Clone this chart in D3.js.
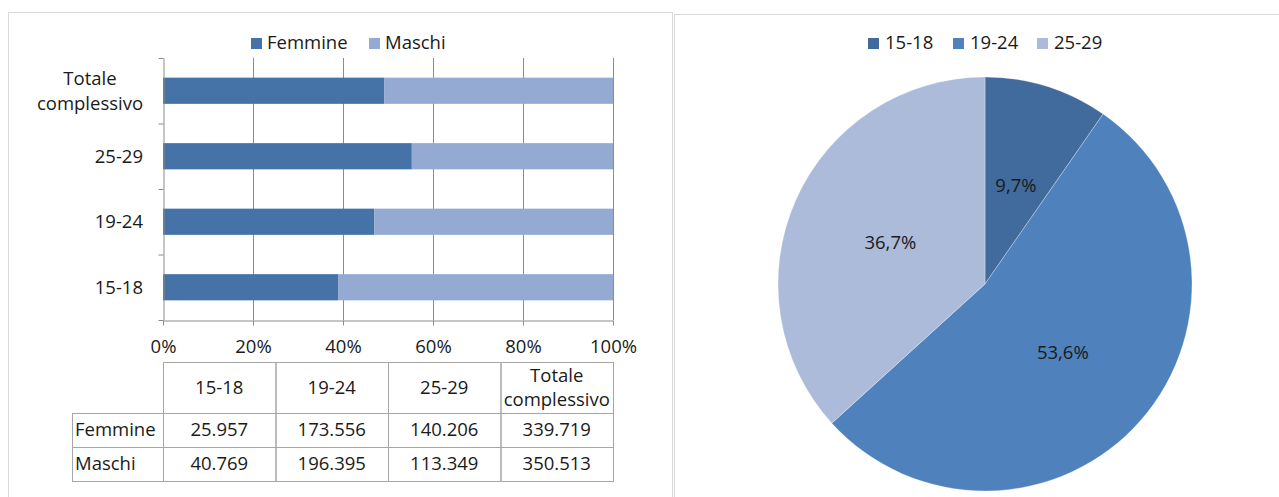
<html>
<head>
<style>
  body { margin: 0; background: #fff; }
  text { font-family: "Open Sans", sans-serif; font-size: 18.5px; fill: #1a1a1a; }
  .grid line { stroke: #8c8c8c; }
  .axis path, .axis line { stroke: #8c8c8c; }
  .axis text { font-size: 18.5px; fill: #1a1a1a; font-family: "Open Sans", sans-serif; }
  .cell { fill: none; stroke: #a6a6a6; }
</style>
<script src="https://cdn.jsdelivr.net/npm/d3@7"></script>
</head>
<body>
<svg id="chart" width="1279" height="497"></svg>
<script>
// dati
const categorie = ["15-18", "19-24", "25-29", "Totale complessivo"];
const femmine = [25957, 173556, 140206, 339719];
const maschi = [40769, 196395, 113349, 350513];
const serie = ["Femmine", "Maschi"];
const coloriBarre = ["#4573a7", "#95aad3"];
const fasce = ["15-18", "19-24", "25-29"];
const coloriTorta = ["#416b9c", "#4f81bd", "#abbbd9"];
const tickX = [0, 0.2, 0.4, 0.6, 0.8, 1];

const svg = d3.select("#chart");
const it = d3.formatLocale({ decimal: ",", thousands: ".", grouping: [3], currency: ["", "€"] });
const fmtNum = it.format(",d");
const fmtPct = it.format(".1%");

// cornici dei due pannelli
svg.append("rect").attr("x", 8.5).attr("y", 12.5).attr("width", 664).attr("height", 500)
  .attr("fill", "none").attr("stroke", "#d9d9d9");
svg.append("rect").attr("x", 674.5).attr("y", 14.5).attr("width", 620).attr("height", 500)
  .attr("fill", "none").attr("stroke", "#d9d9d9");

// ---- grafico a barre 100% ----
const x = d3.scaleLinear().domain([0, 1]).range([163, 613]);
const y = d3.scaleBand().domain(categorie.slice().reverse()).range([58, 320])
  .paddingInner(0.6).paddingOuter(0.3);
const yIdx = d3.scaleLinear().domain([0, categorie.length]).range([320, 58]);

svg.append("g").attr("class", "grid")
  .selectAll("line").data(tickX.slice(1)).join("line")
  .attr("x1", d => x(d) + 0.5).attr("x2", d => x(d) + 0.5)
  .attr("y1", 58).attr("y2", 320);

const righe = categorie.map((c, i) => {
  const tot = femmine[i] + maschi[i];
  return { cat: c, f: femmine[i] / tot, m: maschi[i] / tot };
});

svg.append("g").selectAll("rect").data(righe).join("rect")
  .attr("x", x(0)).attr("y", d => y(d.cat))
  .attr("width", d => x(d.f) - x(0)).attr("height", y.bandwidth())
  .attr("fill", coloriBarre[0]);
svg.append("g").selectAll("rect").data(righe).join("rect")
  .attr("x", d => x(d.f)).attr("y", d => y(d.cat))
  .attr("width", d => x(1) - x(d.f)).attr("height", y.bandwidth())
  .attr("fill", coloriBarre[1]);

svg.append("g").attr("class", "axis")
  .attr("transform", "translate(0,320.5)")
  .call(d3.axisBottom(x).tickValues(tickX).tickFormat(d3.format(".0%")).tickSize(5).tickPadding(14).tickSizeOuter(0));

svg.append("g").attr("class", "axis")
  .attr("transform", "translate(163.5,0)")
  .call(d3.axisLeft(yIdx).tickValues(d3.range(categorie.length + 1)).tickFormat("").tickSize(5).tickSizeOuter(0));

// etichette categorie
svg.append("g").selectAll("text").data(categorie).join("text")
  .attr("text-anchor", d => d.includes(" ") ? "middle" : "end")
  .attr("x", d => d.includes(" ") ? 90 : 143)
  .each(function(d) {
    const parole = d.split(" ");
    const t = d3.select(this);
    const cy = y(d) + y.bandwidth() / 2;
    parole.forEach((p, k) => {
      t.append("tspan").attr("x", t.attr("x"))
        .attr("y", cy + (k - (parole.length - 1) / 2) * 25)
        .attr("dy", "0.35em")
        .text(p);
    });
  });

// legenda barre
const legB = svg.append("g");
const legBx = [251, 369];
serie.forEach((s, i) => {
  legB.append("rect").attr("x", legBx[i]).attr("y", 38).attr("width", 11).attr("height", 11).attr("fill", coloriBarre[i]);
  legB.append("text").attr("x", legBx[i] + 16).attr("y", 43).attr("dy", "0.35em").text(s);
});

// tabella dati
const col = d3.scaleBand().domain(categorie).range([163, 613]);
const rowY = [362, 413, 447, 481];
const tab = svg.append("g");
categorie.forEach(c => {
  tab.append("rect").attr("class", "cell").attr("x", col(c) + 0.5).attr("y", rowY[0] + 0.5)
    .attr("width", col.bandwidth()).attr("height", rowY[1] - rowY[0]);
  const t = tab.append("text").attr("text-anchor", "middle");
  const parole = c.split(" ");
  parole.forEach((p, k) => {
    t.append("tspan").attr("x", col(c) + col.bandwidth() / 2)
      .attr("y", (rowY[0] + rowY[1]) / 2 + (k - (parole.length - 1) / 2) * 24)
      .attr("dy", "0.35em").text(p);
  });
});
[femmine, maschi].forEach((vals, r) => {
  const y0 = rowY[r + 1], y1 = rowY[r + 2];
  tab.append("rect").attr("class", "cell").attr("x", 72.5).attr("y", y0 + 0.5)
    .attr("width", 163 - 72).attr("height", y1 - y0);
  tab.append("text").attr("x", 75).attr("y", (y0 + y1) / 2).attr("dy", "0.35em").text(serie[r]);
  categorie.forEach((c, i) => {
    tab.append("rect").attr("class", "cell").attr("x", col(c) + 0.5).attr("y", y0 + 0.5)
      .attr("width", col.bandwidth()).attr("height", y1 - y0);
    tab.append("text").attr("text-anchor", "middle")
      .attr("x", col(c) + col.bandwidth() / 2).attr("y", (y0 + y1) / 2).attr("dy", "0.35em")
      .text(fmtNum(vals[i]));
  });
});

// ---- grafico a torta ----
const totFasce = fasce.map((f, i) => femmine[i] + maschi[i]);
const somma = d3.sum(totFasce);
const R = 207;
const torta = svg.append("g").attr("transform", "translate(985,284)");
const pie = d3.pie().sort(null).value(d => d)(totFasce);
const arc = d3.arc().innerRadius(0).outerRadius(R);
torta.selectAll("path").data(pie).join("path")
  .attr("d", arc).attr("fill", (d, i) => coloriTorta[i])
  .attr("stroke", "#fff").attr("stroke-width", 0.5).attr("stroke-opacity", 0.6);
torta.selectAll("text").data(pie).join("text")
  .attr("text-anchor", "middle")
  .attr("transform", d => "translate(" + arc.centroid(d) + ")")
  .attr("dy", "0.35em")
  .text(d => fmtPct(d.value / somma));

const legT = svg.append("g");
const legTx = [868, 953, 1037];
fasce.forEach((f, i) => {
  legT.append("rect").attr("x", legTx[i]).attr("y", 38).attr("width", 11).attr("height", 11).attr("fill", coloriTorta[i]);
  legT.append("text").attr("x", legTx[i] + 17).attr("y", 43).attr("dy", "0.35em").text(f);
});
</script>
</body>
</html>
